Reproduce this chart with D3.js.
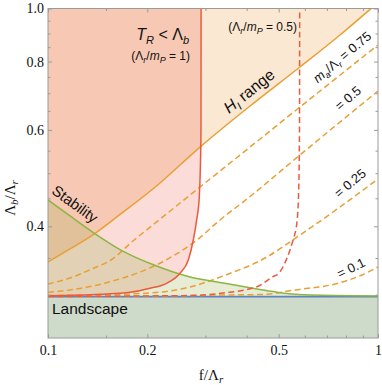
<!DOCTYPE html>
<html>
<head>
<meta charset="utf-8">
<script src="https://cdn.jsdelivr.net/npm/d3@7"></script>
<style>
body { margin: 0; background: #fff; }
</style>
</head>
<body>
<div id="canvas"></div>
<script>
// ----------------------------------------------------------
// DATA -----------------------------------------------------
// ----------------------------------------------------------
// x = f / Lambda_r , y = Lambda_b / Lambda_r
var landscape_level = 0.2975;

var hi_range = [[0.1, 0.3441], [0.1166, 0.3636], [0.1379, 0.3871], [0.1653, 0.4204], [0.2096, 0.4699],
[0.2888, 0.5582], [0.4094, 0.6635], [0.5802, 0.7818], [0.7671, 0.8946], [0.9524, 1.0]];

var stability = [[0.1, 0.4468], [0.1166, 0.4178], [0.1379, 0.3888], [0.1664, 0.3619], [0.2096, 0.3398],
[0.2694, 0.3231], [0.3391, 0.3151], [0.4299, 0.3073], [0.5047, 0.3025], [0.6813, 0.2992], [1.0, 0.2984]];

// T_R < Lambda_b for Lambda_r/m_P = 1 (solid) and 0.5 (dashed)
var tr_mp_1 = [[0.1, 0.2986], [0.1437, 0.3005], [0.1772, 0.3030], [0.2038, 0.3082], [0.2289, 0.3147],
[0.2512, 0.3282], [0.2662, 0.3471], [0.2756, 0.3776], [0.2822, 0.4108], [0.2874, 0.4529],
[0.2894, 0.5068], [0.2908, 0.5998], [0.2910, 1.0]];
var tr_mp_05 = [[0.1, 0.2977], [0.2038, 0.2984], [0.2694, 0.2989], [0.3391, 0.3021], [0.4299, 0.3102],
[0.4806, 0.3236], [0.5001, 0.3282], [0.5319, 0.3520], [0.5527, 0.3776], [0.5677, 0.4056],
[0.5750, 0.4660], [0.5782, 0.5998], [0.5790, 1.0]];

// m_a / Lambda_r contours
var ma_075 = [[0.1, 0.3137], [0.1166, 0.3218], [0.1379, 0.3356], [0.1552, 0.3471], [0.1809, 0.3760],
[0.2096, 0.4039], [0.2888, 0.4719], [0.4094, 0.5582], [0.5802, 0.6607], [1.0, 0.8577]];
var ma_05 = [[0.1, 0.3030], [0.125, 0.3079], [0.1552, 0.3171], [0.19, 0.3300], [0.2246, 0.3456],
[0.2828, 0.3776], [0.3320, 0.4108], [0.4009, 0.4487], [0.5802, 0.5400], [1.0, 0.7067]];
var ma_025 = [[0.1, 0.2989], [0.1437, 0.2999], [0.2038, 0.3021], [0.2694, 0.3099], [0.3391, 0.3245],
[0.4547, 0.3500], [0.5802, 0.3855], [0.7671, 0.4338], [1.0, 0.4882]];
var ma_01 = [[0.1, 0.2977], [0.2038, 0.2981], [0.3391, 0.2996], [0.4451, 0.3002], [0.5604, 0.3060],
[0.7617, 0.3151], [0.8943, 0.3259], [1.0, 0.3370]];

// ticks
var x_ticks = [0.1, 0.2, 0.5, 1];
var x_tick_labels = ["0.1", "0.2", "0.5", "1"];
var x_minor = [0.15, 0.3, 0.4, 0.6, 0.7, 0.8, 0.9];
var y_ticks = [0.4, 0.6, 0.8, 1.0];
var y_tick_labels = ["0.4", "0.6", "0.8", "1.0"];
var y_minor = [0.3, 0.35, 0.45, 0.5, 0.55, 0.65, 0.7, 0.75, 0.85, 0.9, 0.95];

var x_domain = [0.1, 1];
var y_domain = [0.25, 1];

// ----------------------------------------------------------
// STRUCTURE ------------------------------------------------
// ----------------------------------------------------------
var W = 382, H = 385;
var plot = { left: 48, right: 378, top: 8.5, bottom: 338 };
var col_orange = "#e8a034", col_red = "#ec5a3e", col_green = "#8db543", col_blue = "#5b84c2";
var sans = "'Liberation Sans', Arial, sans-serif";
var serif = "'Liberation Serif', 'Times New Roman', serif";

var svg = d3.select("#canvas").append("svg")
.attr("width", W)
.attr("height", H)
.style("background-color", "#fff");

var xScale = d3.scaleLog().domain(x_domain).range([plot.left, plot.right]);
var yScale = d3.scaleLog().domain(y_domain).range([plot.bottom, plot.top]);

svg.append("defs").append("clipPath").attr("id", "clip")
.append("rect")
.attr("x", plot.left).attr("y", plot.top)
.attr("width", plot.right - plot.left).attr("height", plot.bottom - plot.top);

var gfx = svg.append("g").attr("class", "gfx").attr("clip-path", "url(#clip)");

var line = d3.line()
.x((d) => xScale(d[0]))
.y((d) => yScale(d[1]))
.curve(d3.curveMonotoneX);

var pt = (x, y) => `L${xScale(x)},${yScale(y)}`;

// ----------------------------------------------------------
// REGIONS --------------------------------------------------
// ----------------------------------------------------------
// H_I range (above solid orange)
gfx.append("path")
.attr("d", line(hi_range) + pt(x_domain[0], 1) + "Z")
.attr("fill", "rgba(228,140,30,0.2)");

// T_R < Lambda_b (left of red curve)
gfx.append("path")
.attr("d", line(tr_mp_1) + pt(x_domain[0], 1) + "Z")
.attr("fill", "rgba(235,80,60,0.2)");

// stability (below green)
gfx.append("path")
.attr("d", line(stability) + pt(x_domain[1], landscape_level) + pt(x_domain[0], landscape_level) + "Z")
.attr("fill", "rgba(135,165,45,0.2)");

// landscape
gfx.append("rect")
.attr("x", plot.left)
.attr("y", yScale(landscape_level))
.attr("width", plot.right - plot.left)
.attr("height", plot.bottom - yScale(landscape_level))
.attr("fill", "#cfdbca");

// ----------------------------------------------------------
// LINES ----------------------------------------------------
// ----------------------------------------------------------
gfx.append("line")
.attr("x1", plot.left).attr("x2", plot.right)
.attr("y1", yScale(landscape_level)).attr("y2", yScale(landscape_level))
.attr("stroke", col_blue).attr("stroke-width", 1.6);

[ma_075, ma_05, ma_025, ma_01].forEach(function (c) {
gfx.append("path")
.attr("d", line(c))
.attr("fill", "none")
.attr("stroke", col_orange)
.attr("stroke-width", 1.5)
.attr("stroke-dasharray", "6,3.5");
});

gfx.append("path").attr("d", line(hi_range))
.attr("fill", "none").attr("stroke", col_orange).attr("stroke-width", 1.5);

gfx.append("path").attr("d", line(stability))
.attr("fill", "none").attr("stroke", col_green).attr("stroke-width", 1.5);

gfx.append("path").attr("d", line(tr_mp_1))
.attr("fill", "none").attr("stroke", col_red).attr("stroke-width", 1.5);

gfx.append("path").attr("d", line(tr_mp_05))
.attr("fill", "none").attr("stroke", col_red).attr("stroke-width", 1.5)
.attr("stroke-dasharray", "6,3.5");

// ----------------------------------------------------------
// FRAME + AXES ---------------------------------------------
// ----------------------------------------------------------
var frame_col = "#9a9a9a";
function styleAxis(g) {
g.select(".domain").remove();
g.selectAll(".tick line").attr("stroke", frame_col);
g.selectAll("text").attr("font-family", serif).attr("font-size", "14px").attr("fill", "#111");
}

// major with labels
svg.append("g")
.attr("transform", `translate(0,${plot.bottom})`)
.call(d3.axisBottom(xScale).tickValues(x_ticks).tickSize(-4).tickPadding(7)
.tickFormat((d, i) => x_tick_labels[i]))
.call(styleAxis);
svg.append("g")
.attr("transform", `translate(${plot.left},0)`)
.call(d3.axisLeft(yScale).tickValues(y_ticks).tickSize(-4).tickPadding(4)
.tickFormat((d, i) => y_tick_labels[i]))
.call(styleAxis);
// mirrored major
svg.append("g")
.attr("transform", `translate(0,${plot.top})`)
.call(d3.axisTop(xScale).tickValues(x_ticks).tickSize(-4).tickFormat(""))
.call(styleAxis);
svg.append("g")
.attr("transform", `translate(${plot.right},0)`)
.call(d3.axisRight(yScale).tickValues(y_ticks).tickSize(-4).tickFormat(""))
.call(styleAxis);
// minor on all sides
[[d3.axisBottom, xScale, x_minor, `translate(0,${plot.bottom})`],
[d3.axisTop, xScale, x_minor, `translate(0,${plot.top})`],
[d3.axisLeft, yScale, y_minor, `translate(${plot.left},0)`],
[d3.axisRight, yScale, y_minor, `translate(${plot.right},0)`]].forEach(function (a) {
svg.append("g")
.attr("transform", a[3])
.call(a[0](a[1]).tickValues(a[2]).tickSize(-2.5).tickFormat(""))
.call(styleAxis);
});

svg.append("rect")
.attr("x", plot.left).attr("y", plot.top)
.attr("width", plot.right - plot.left).attr("height", plot.bottom - plot.top)
.attr("fill", "none").attr("stroke", frame_col).attr("stroke-width", 1);

// axis titles
var xt = svg.append("text")
.attr("x", 211).attr("y", 380)
.attr("text-anchor", "middle")
.attr("font-family", serif).attr("font-size", "15px").attr("fill", "#111");
xt.append("tspan").text("f/Λ");
xt.append("tspan").attr("font-style", "italic").attr("font-size", "11px").attr("dy", 3).text("r");

var yt = svg.append("text")
.attr("transform", "translate(15,198) rotate(-90)")
.attr("text-anchor", "middle")
.attr("font-family", serif).attr("font-size", "15px").attr("fill", "#111");
yt.append("tspan").text("Λ");
yt.append("tspan").attr("font-style", "italic").attr("font-size", "11px").attr("dy", 3).text("b");
yt.append("tspan").attr("dy", -3).text("/Λ");
yt.append("tspan").attr("font-style", "italic").attr("font-size", "11px").attr("dy", 3).text("r");

// ----------------------------------------------------------
// LABELS ---------------------------------------------------
// ----------------------------------------------------------
var label_group = svg.append("g")
.attr("font-family", sans).attr("fill", "#111");

var t1 = label_group.append("text")
.attr("x", 189).attr("y", 40).attr("text-anchor", "end").attr("font-size", "16px");
t1.append("tspan").attr("font-style", "italic").text("T");
t1.append("tspan").attr("font-style", "italic").attr("font-size", "11px").attr("dy", 4).text("R");
t1.append("tspan").attr("dy", -4).text(" < Λ");
t1.append("tspan").attr("font-style", "italic").attr("font-size", "11px").attr("dy", 4).text("b");

function ratioLabel(x, y, val) {
var t = label_group.append("text")
.attr("x", x).attr("y", y).attr("text-anchor", "end").attr("font-size", "12px");
t.append("tspan").text("(Λ");
t.append("tspan").attr("font-style", "italic").attr("font-size", "9px").attr("dy", 3).text("r");
t.append("tspan").attr("dy", -3).text("/");
t.append("tspan").attr("font-style", "italic").text("m");
t.append("tspan").attr("font-style", "italic").attr("font-size", "9px").attr("dy", 3).text("P");
t.append("tspan").attr("dy", -3).text(" = " + val + ")");
}
ratioLabel(190, 60, "1");
ratioLabel(297, 31, "0.5");

function rotLabel(x, y, angle, size) {
return label_group.append("text")
.attr("transform", `translate(${x},${y}) rotate(${angle})`)
.attr("text-anchor", "middle")
.attr("dy", "0.35em")
.attr("font-size", size);
}

var hl = rotLabel(249, 91, -38.5, "16px");
hl.append("tspan").attr("font-style", "italic").text("H");
hl.append("tspan").attr("font-style", "italic").attr("font-size", "11px").attr("dy", 4).text("I");
hl.append("tspan").attr("dy", -4).text(" range");

var ml = rotLabel(342, 57, -40, "13px");
ml.append("tspan").attr("font-style", "italic").text("m");
ml.append("tspan").attr("font-style", "italic").attr("font-size", "9px").attr("dy", 3).text("a");
ml.append("tspan").attr("dy", -3).text("/Λ");
ml.append("tspan").attr("font-style", "italic").attr("font-size", "9px").attr("dy", 3).text("r");
ml.append("tspan").attr("dy", -3).text(" = 0.75");

rotLabel(348, 98, -40, "13px").text("= 0.5");
rotLabel(350, 183, -40, "13px").text("= 0.25");
rotLabel(351, 268, -26, "13px").text("= 0.1");

rotLabel(75, 204, 36, "15px").text("Stability");

label_group.append("text")
.attr("x", 52).attr("y", 314)
.attr("font-size", "15.5px")
.text("Landscape");
</script>
</body>
</html>
